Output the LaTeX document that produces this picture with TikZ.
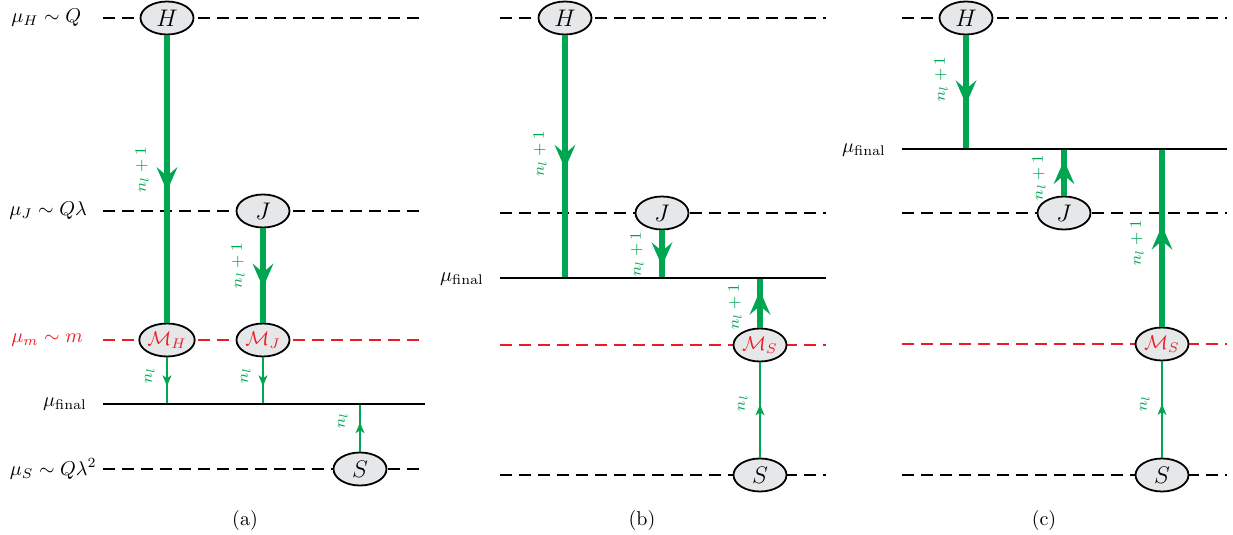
\documentclass[tikz,border=0pt]{standalone}
\usetikzlibrary{shapes.geometric,arrows.meta,decorations.markings}
\definecolor{ngreen}{HTML}{00A651}
\definecolor{nred}{HTML}{ED1C24}
\definecolor{nfill}{HTML}{E6E7E8}
\tikzset{
 scl/.style={ellipse, draw=black, line width=0.9pt, fill=nfill, minimum width=26.5pt, minimum height=16.5pt, inner sep=0pt, font=\large},
 mscl/.style={scl, font=\normalsize, text=nred},
 lev/.style={dash pattern=on 6pt off 3.5pt, line width=0.9pt},
 levred/.style={lev, draw=nred},
 fin/.style={line width=1pt},
 thickarr/.style={draw=ngreen, line width=3.3pt, postaction={decorate}, decoration={markings, mark=at position 0.5 with {\arrow[color=ngreen, xshift=6pt]{Stealth[length=12pt,width=10.5pt,inset=4.5pt,line width=0pt]}}}},
 thinarr/.style={draw=ngreen, line width=1.3pt, postaction={decorate}, decoration={markings, mark=at position 0.5 with {\arrow[color=ngreen, xshift=2.75pt]{Stealth[length=5.5pt,width=4.5pt,inset=1.5pt,line width=0pt]}}}},
 lbl/.style={font=\footnotesize, text=ngreen, anchor=south, inner sep=0pt, rotate=90},
 lab/.style={inner sep=0pt},
}
\begin{document}
\begin{tikzpicture}[x=0.5pt,y=-0.5pt]
\useasboundingbox (0,0) rectangle (1233,535);

% ---------- panel (a)
\draw[lev] (103,18) -- (425,18);
\draw[lev] (103,211) -- (425,211);
\draw[levred] (103,340) -- (425,340);
\draw[lev] (103,469) -- (425,469);
\node[lab, anchor=west] (laH) at (11,18) {$\mu_H\sim Q$};
\node[lab, anchor=west] (laJ) at (9,211) {$\mu_J\sim Q\lambda$};
\node[lab, anchor=west, text=nred] (laM) at (11,340) {$\mu_m\sim m$};
\node[lab, anchor=east] (laF) at (87,404) {$\mu_{\mathrm{final}}$};
\node[lab, anchor=east] (laS) at (97,469) {$\mu_S\sim Q\lambda^2$};
\node[scl] (aH) at (167,18) {$H$};
\node[scl] (aJ) at (263,211) {$J$};
\node[mscl] (aMH) at (167,340) {$\mathcal{M}_H$};
\node[mscl] (aMJ) at (263,340) {$\mathcal{M}_J$};
\node[scl] (aS) at (360,469) {$S$};
\coordinate (aF1) at (167,404);
\coordinate (aF2) at (263,404);
\coordinate (aF3) at (360,404);
\coordinate (aFL) at (103,404);
\coordinate (aFR) at (425,404);
\draw[thickarr] (aH) -- (aMH) node[midway, xshift=-7.5pt, yshift=4.5pt, lbl] {$n_l+1$};
\draw[thickarr] (aJ) -- (aMJ) node[midway, xshift=-7.5pt, yshift=5pt, lbl] {$n_l+1$};
\draw[thinarr] (aMH) -- (aF1) node[midway, xshift=-5.5pt, yshift=2.5pt, lbl] {$n_l$};
\draw[thinarr] (aMJ) -- (aF2) node[midway, xshift=-5.5pt, yshift=2.5pt, lbl] {$n_l$};
\draw[thinarr] (aS) -- (aF3) node[midway, xshift=-5.5pt, yshift=3.5pt, lbl] {$n_l$};
\draw[fin] (aFL) -- (aFR);
\node (capa) at (245,520) {(a)};

% ---------- panel (b)
\draw[lev] (500,18) -- (826,18);
\draw[lev] (500,213) -- (826,213);
\draw[levred] (500,345) -- (826,345);
\draw[lev] (500,475) -- (826,475);
\node[lab, anchor=east] (lbF) at (484,279) {$\mu_{\mathrm{final}}$};
\node[scl] (bH) at (565,18) {$H$};
\node[scl] (bJ) at (662,213) {$J$};
\node[mscl] (bMS) at (760,345) {$\mathcal{M}_S$};
\node[scl] (bS) at (760,475) {$S$};
\coordinate (bF1) at (565,278);
\coordinate (bF2) at (662,278);
\coordinate (bF3) at (760,278);
\coordinate (bFL) at (500,278);
\coordinate (bFR) at (826,278);
\draw[thickarr] (bH) -- (bF1) node[midway, xshift=-7.5pt, yshift=1.5pt, lbl] {$n_l+1$};
\draw[thickarr] (bJ) -- (bF2) node[midway, xshift=-7.5pt, lbl] {$n_l+1$};
\draw[thickarr] (bMS) -- (bF3) node[midway, xshift=-7.5pt, yshift=-2pt, lbl] {$n_l+1$};
\draw[thinarr] (bS) -- (bMS) node[midway, xshift=-5.5pt, yshift=3.5pt, lbl] {$n_l$};
\draw[fin] (bFL) -- (bFR);
\node (capb) at (642,520) {(b)};

% ---------- panel (c)
\draw[lev] (902,18) -- (1227,18);
\draw[lev] (902,213) -- (1227,213);
\draw[levred] (902,344) -- (1227,344);
\draw[lev] (902,475) -- (1227,475);
\node[lab, anchor=east] (lcF) at (886,150) {$\mu_{\mathrm{final}}$};
\node[scl] (cH) at (966,18) {$H$};
\node[scl] (cJ) at (1064,213) {$J$};
\node[mscl] (cMS) at (1162,344) {$\mathcal{M}_S$};
\node[scl] (cS) at (1162,475) {$S$};
\coordinate (cF1) at (966,149);
\coordinate (cF2) at (1064,149);
\coordinate (cF3) at (1162,149);
\coordinate (cFL) at (902,149);
\coordinate (cFR) at (1227,149);
\draw[thickarr] (cH) -- (cF1) node[midway, xshift=-7.5pt, yshift=6.5pt, lbl] {$n_l+1$};
\draw[thickarr] (cJ) -- (cF2) node[midway, xshift=-7.5pt, yshift=-2.5pt, lbl] {$n_l+1$};
\draw[thickarr] (cMS) -- (cF3) node[midway, xshift=-7.5pt, yshift=-2.5pt, lbl] {$n_l+1$};
\draw[thinarr] (cS) -- (cMS) node[midway, xshift=-5.5pt, yshift=3pt, lbl] {$n_l$};
\draw[fin] (cFL) -- (cFR);
\node (capc) at (1044,520) {(c)};
\end{tikzpicture}
\end{document}
